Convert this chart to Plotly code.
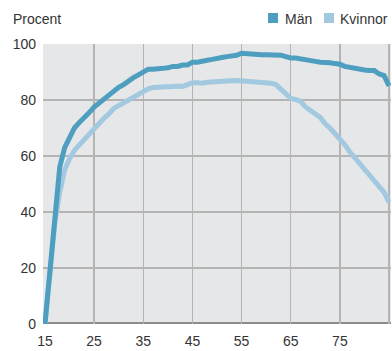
import plotly.graph_objects as go

ages = list(range(15, 86))
man = [0, 20, 40, 56, 63, 67, 70, 72, 73.5, 75.5,
       77.5, 79, 80.5, 82, 83.5, 84.5, 85.5, 87, 88, 89,
       90, 91, 91, 91, 91.3, 91.5, 92, 92, 92.5, 92.5,
       93.5, 93.5, 94, 94.2, 94.5, 95, 95.2, 95.5, 95.6, 96,
       96.7, 96.5, 96.3, 96.3, 96.2, 96.2, 96.2, 96.3, 96, 95.5,
       95, 95, 94.8, 94.5, 94, 93.8, 93.5, 93.5, 93.3, 93,
       92.8, 92, 91.6, 91.3, 91, 90.7, 90.5, 90.5, 89.3, 88.7,
       85]
kvinnor = [0, 18, 36, 47, 55, 59, 62, 64, 66, 67.5,
           69.5, 71.5, 73.5, 75, 77, 78, 79, 80, 81.5, 82.5,
           83.5, 84, 84.5, 84.5, 84.6, 84.8, 84.8, 85, 84.8, 85.5,
           86.2, 86.2, 86, 86.3, 86.5, 86.5, 86.8, 86.8, 86.9, 87,
           86.9, 86.7, 86.6, 86.6, 86.5, 86.2, 86, 85.5, 84, 82,
           80.6, 80.2, 79.5, 77.5, 76.5, 75, 73.8, 71.5, 70, 68,
           66.5, 64, 61.5, 59.5, 57.5, 55, 53, 51.5, 49, 47,
           43.5]
x_ticks = [15, 25, 35, 45, 55, 65, 75, 85]
y_ticks = [0, 20, 40, 60, 80, 100]
series_names = ["Män", "Kvinnor"]
colors = ["#4e9ec0", "#a2c9df"]

FONT = "Liberation Sans, Arial, sans-serif"
W, H = 392, 351
ML, MR, MT, MB = 43, 1, 44, 27

fig = go.Figure()
fig.add_trace(go.Scatter(x=ages, y=kvinnor, mode="lines", name=series_names[1],
                         line=dict(color=colors[1], width=5), showlegend=False))
fig.add_trace(go.Scatter(x=ages, y=man, mode="lines", name=series_names[0],
                         line=dict(color=colors[0], width=5), showlegend=False))

# baseline
fig.add_shape(type="line", xref="paper", yref="y", x0=0, x1=1, y0=0, y1=0,
              line=dict(color="#8c8c8c", width=4), layer="between")

pw = W - ML - MR
ph = H - MT - MB
def px2x(p):
    return (p - ML) / pw
def py2y(p):
    return (H - MB - p) / ph

# legend (manual)
leg = [(series_names[0], colors[0], 268, 283), (series_names[1], colors[1], 324, 338)]
for name, col, sx, tx in leg:
    fig.add_shape(type="rect", xref="paper", yref="paper",
                  x0=px2x(sx), x1=px2x(sx + 10), y0=py2y(23), y1=py2y(13),
                  fillcolor=col, line=dict(width=0))
    fig.add_annotation(text=name, xref="paper", yref="paper", x=px2x(tx), y=py2y(18.5),
                       xanchor="left", yanchor="middle", showarrow=False,
                       font=dict(family=FONT, size=14, color="#333333"))

fig.add_annotation(text="Procent", xref="paper", yref="paper", x=px2x(11), y=py2y(19),
                   xanchor="left", yanchor="middle", showarrow=False,
                   font=dict(family=FONT, size=14, color="#333333"))

fig.update_layout(
    width=W, height=H,
    margin=dict(l=ML, r=MR, t=MT, b=MB),
    paper_bgcolor="white",
    plot_bgcolor="#e6e7e9",
    font=dict(family=FONT, size=14, color="#333333"),
    showlegend=False,
    xaxis=dict(range=[14.6, 85.4], tickvals=x_ticks, showgrid=False, zeroline=False,
               showline=False, ticks="", ticklabelstandoff=7,
               tickfont=dict(size=14, color="#333333"),
               minor=dict(tickvals=x_ticks[1:], showgrid=True, gridcolor="#b4b4b4",
                          gridwidth=1.5, ticks="")),
    yaxis=dict(range=[0, 100], tickvals=y_ticks, showgrid=True, gridcolor="#b4b4b4",
               gridwidth=1.5, zeroline=False, showline=False, ticks="",
               ticklabelstandoff=6,
               tickfont=dict(size=14, color="#333333")),
)

fig.write_html("out.html", config={"displayModeBar": False, "staticPlot": True},
               post_script="document.body.style.margin='0';document.body.style.padding='0';"
                           "document.documentElement.style.overflow='hidden';")
